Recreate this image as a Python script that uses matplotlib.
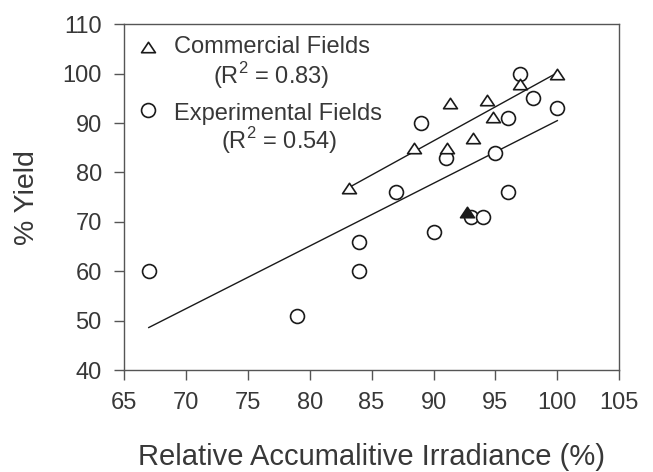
import matplotlib
matplotlib.use("Agg")
import matplotlib.pyplot as plt
from matplotlib.path import Path


# data
commercial_x = [100, 97, 91.3, 94.3, 94.8, 88.4, 91.1, 93.2, 83.2]
commercial_y = [100, 98, 94, 94.7, 91.2, 85, 85, 87, 76.8]

experimental_x = [97, 98, 100, 96, 89, 91, 95, 87, 96, 93, 94, 90, 84, 84, 67, 79]
experimental_y = [100, 95, 93, 91, 90, 83, 84, 76, 76, 71, 71, 68, 66, 60, 60, 51]

# the one filled triangle
outlier_x = [92.7]
outlier_y = [72]

# regression lines (ends)
commercial_fit_x = [83.2, 100]
commercial_fit_y = [77.0, 100.2]
experimental_fit_x = [67, 100]
experimental_fit_y = [48.6, 90.5]

x_ticks = [65, 70, 75, 80, 85, 90, 95, 100, 105]
y_ticks = [40, 50, 60, 70, 80, 90, 100, 110]


plt.rcParams['font.family'] = ['Liberation Sans', 'DejaVu Sans']
plt.rcParams['mathtext.fontset'] = 'custom'
plt.rcParams['mathtext.rm'] = 'Liberation Sans'

text_col = '#383838'
axis_col = '#555555'
mark_col = '#1a1a1a'

# flat triangle like the original
tri = Path([(0, 0.75), (-1, -0.75), (1, -0.75), (0, 0.75)], closed=True)

fig = plt.figure(figsize=(6.53, 4.72), dpi=100)
ax = fig.add_axes([0.1899, 0.2161, 0.7584, 0.7324])

ax.plot(commercial_fit_x, commercial_fit_y, color=mark_col, lw=1.0, zorder=2)
ax.plot(experimental_fit_x, experimental_fit_y, color=mark_col, lw=1.0, zorder=2)

ax.plot(experimental_x, experimental_y, 'o', ms=10, mfc='white', mec=mark_col, mew=1.2, zorder=3)
ax.plot(commercial_x, commercial_y, marker=tri, ls='none', ms=10, mfc='white', mec=mark_col, mew=1.2, zorder=4)
ax.plot(outlier_x, outlier_y, marker=tri, ls='none', ms=10, mfc=mark_col, mec=mark_col, mew=1.2, zorder=5)

ax.set_xlim(65, 105)
ax.set_ylim(40, 110)
ax.set_xticks(x_ticks)
ax.set_yticks(y_ticks)

for s in ax.spines.values():
    s.set_color(axis_col)
    s.set_linewidth(1.0)

ax.tick_params(direction='out', length=7, width=1.0, color=axis_col,
               labelsize=17, labelcolor=text_col, pad=9, top=False, right=False)

ax.set_xlabel('Relative Accumalitive Irradiance (%)', fontsize=21, color=text_col, labelpad=21)
ax.set_ylabel('% Yield', fontsize=20.5, color=text_col, labelpad=16)

# legend drawn by hand (text layout like the original)
ax.plot([0.049], [0.935], marker=tri, ms=10, mfc='white', mec=mark_col, mew=1.2,
        transform=ax.transAxes, clip_on=False)
ax.plot([0.049], [0.752], 'o', ms=10, mfc='white', mec=mark_col, mew=1.2,
        transform=ax.transAxes, clip_on=False)
ax.text(0.101, 0.916, 'Commercial Fields', transform=ax.transAxes, fontsize=17,
        color=text_col, va='baseline', ha='left')
ax.text(0.298, 0.829, r'(R$^{\mathregular{2}}$ = 0.83)', transform=ax.transAxes, fontsize=17,
        color=text_col, va='baseline', ha='center')
ax.text(0.101, 0.723, 'Experimental Fields', transform=ax.transAxes, fontsize=17,
        color=text_col, va='baseline', ha='left')
ax.text(0.313, 0.641, r'(R$^{\mathregular{2}}$ = 0.54)', transform=ax.transAxes, fontsize=17,
        color=text_col, va='baseline', ha='center')

fig.savefig('out.png', dpi=100)
